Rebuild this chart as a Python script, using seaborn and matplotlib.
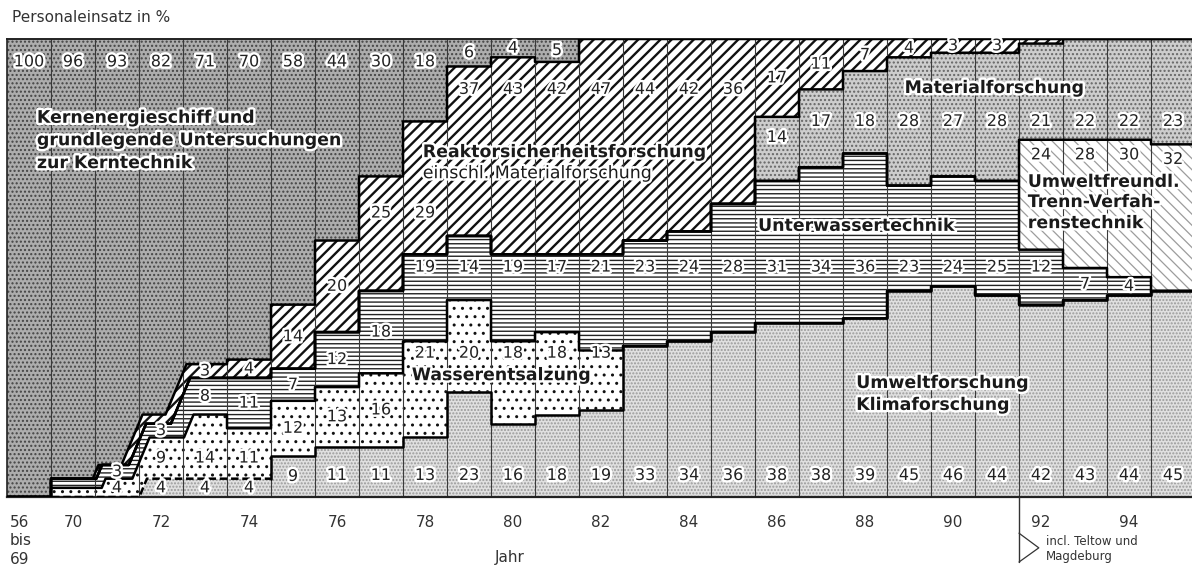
import numpy as np
import matplotlib
matplotlib.use("Agg")
import matplotlib.pyplot as plt
import matplotlib.patheffects as pe
import seaborn as sns

# Personaleinsatz in % per column: "56 bis 69", then one column per year 70 ... 95
years = ["56 bis 69"] + [str(y) for y in range(70, 96)]

umwelt = [0, 0, 0, 4, 4, 4, 9, 11, 11, 13, 23, 16, 18, 19, 33, 34, 36, 38, 38, 39,
          45, 46, 44, 42, 43, 44, 45]
wasser = [0, 2, 4, 9, 14, 11, 12, 13, 16, 21, 20, 18, 18, 13, 0, 0, 0, 0, 0, 0,
          0, 0, 0, 0, 0, 0, 0]
unterwasser = [0, 2, 3, 3, 8, 11, 7, 12, 18, 19, 14, 19, 17, 21, 23, 24, 28, 31, 34, 36,
               23, 24, 25, 12, 7, 4, 0]
trenn = [0] * 23 + [24, 28, 30, 32]
material = [0] * 17 + [14, 17, 18, 28, 27, 28, 21, 22, 22, 23]
reaktor = [0, 0, 0, 2, 3, 4, 14, 20, 25, 29, 37, 43, 42, 47, 44, 42, 36, 17, 11, 7,
           4, 3, 3, 1, 0, 0, 0]
kern = [100, 96, 93, 82, 71, 70, 58, 44, 30, 18, 6, 4, 5] + [0] * 14

sns.set_theme(style="white")
plt.rcParams["font.family"] = ["DejaVu Sans"]
plt.rcParams["hatch.linewidth"] = 1.0

fig = plt.figure(figsize=(11.92, 5.68), dpi=100)
ax = fig.add_axes([7 / 1192, 71 / 568, 1185 / 1192, 458 / 568])

# the early years are drawn with slanted transitions
SLANT = {2, 3, 4}


def step_path(vals, shift=0.1):
    xs, ys = [0.0], [vals[0]]
    for k in range(1, len(vals)):
        a, b = vals[k - 1], vals[k]
        if k in SLANT:
            x1 = k + shift
            x0 = x1 - abs(b - a) / 23
        else:
            x0 = x1 = k
        xs += [x0, x1]
        ys += [a, b]
    xs.append(len(vals))
    ys.append(vals[-1])
    return np.array(xs), np.array(ys)


# name, values, face, hatch, hatch colour, hatch width, slant shift of the top edge
layers = [
    ("umwelt", umwelt, "#e0e0e0", ".....", "#9a9a9a", 1.0, 0.18),
    ("wasser", wasser, "white", "..", "#111111", 1.0, 0.24),
    ("unterwasser", unterwasser, "white", "----", "#222222", 1.0, 0.16),
    ("trenn", trenn, "white", "\\\\\\", "#9c9c9c", 0.9, 0.16),
    ("material", material, "#cdcdcd", "....", "#666666", 1.0, 0.16),
    ("reaktor", reaktor, "white", "///", "#111111", 1.7, 0.08),
    ("kern", kern, "#adadad", "....", "#444444", 1.0, 0.0),
]

bottom = np.zeros(len(years))
bottom_shift = 0.1
bounds = {}
for name, vals, face, hatch, hc, hlw, shift in layers:
    top = bottom + np.array(vals)
    xu, yu = step_path(top, shift)
    xl, yl = step_path(bottom, bottom_shift)
    polys = ax.fill(np.concatenate([xu, xl[::-1]]), np.concatenate([yu, yl[::-1]]),
                    facecolor=face, hatch=hatch, edgecolor=hc, linewidth=0, zorder=1)
    for p in polys:
        if hasattr(p, "set_hatch_linewidth"):
            p.set_hatch_linewidth(hlw)
    bounds[name] = (bottom.copy(), top.copy(), shift)
    bottom = top
    bottom_shift = shift

# column separators
for k in range(1, len(years)):
    ax.axvline(k, color="#3a3a3a", lw=0.8, zorder=2)

# boundaries between the fields
for name, *_ in layers[:-1]:
    _, top, shift = bounds[name]
    xs, ys = step_path(top, shift)
    if name == "umwelt":
        i = int(np.where(xs == 6)[0][0])
        sns.lineplot(x=xs[:i + 1], y=ys[:i + 1], sort=False, estimator=None, color="black",
                     linewidth=1.8, linestyle=(0, (3, 1.5)), ax=ax, zorder=3)
        xs, ys = xs[i:], ys[i:]
    sns.lineplot(x=xs, y=ys, sort=False, estimator=None, color="black",
                 linewidth=1.8, ax=ax, zorder=3)

halo = [pe.withStroke(linewidth=3.5, foreground="white")]


def label_y(name, lo, hi):
    c = (lo + hi) / 2
    if name == "kern":
        return 95 if hi - lo > 10 else c
    if name == "reaktor":
        if hi >= 90 and hi - lo >= 20:
            return 89
        return 62 if hi - lo >= 25 else c
    if name == "material":
        return min(82, hi - 4.5)
    if name == "trenn":
        return hi - 3.3
    if name == "unterwasser":
        return 50.2 if (lo <= 47 and hi >= 52.5) else c
    if name == "wasser":
        if lo >= 13:
            return 31.4
        if lo <= 4 and hi > 10:
            return 8.5
        return c
    return min(c, 4.7)


for name, vals, *_ in layers:
    lo, hi, _ = bounds[name]
    for i, v in enumerate(vals):
        if v < 3 or (name == "reaktor" and i == 3):
            continue
        ax.text(i + 0.5, label_y(name, lo[i], hi[i]), str(v), ha="center", va="center",
                fontsize=11.5, color="#222222", path_effects=halo, zorder=5)

# field names
bold = dict(fontsize=12.5, fontweight="bold", color="#1a1a1a", va="center",
            ha="left", path_effects=halo, zorder=6)
names = [
    (0.68, [82.8, 77.9, 72.9], ["Kernenergieschiff und", "grundlegende Untersuchungen",
                                "zur Kerntechnik"]),
    (9.45, [75.3], ["Reaktorsicherheitsforschung"]),
    (20.4, [89.3], ["Materialforschung"]),
    (17.07, [59.2], ["Unterwassertechnik"]),
    (23.2, [68.8, 64.4, 59.8], ["Umweltfreundl.", "Trenn-Verfah-", "renstechnik"]),
    (9.2, [26.6], ["Wasserentsalzung"]),
    (19.3, [24.9, 20.1], ["Umweltforschung", "Klimaforschung"]),
]
for x, ys, lines in names:
    for y, t in zip(ys, lines):
        ax.text(x, y, t, **bold)
ax.text(9.45, 70.7, "einschl. Materialforschung", fontsize=12.5, color="#1a1a1a",
        va="center", ha="left", path_effects=halo, zorder=6)

# x labels
for i, y in enumerate(years):
    if i == 0:
        ax.text(0.07, -3.9, "56\nbis\n69", ha="left", va="top", fontsize=11,
                color="#333333", linespacing=1.3, clip_on=False)
    elif int(y) % 2 == 0:
        ax.text(i + 0.5, -3.9, y, ha="center", va="top", fontsize=11, color="#333333",
                clip_on=False)
ax.text(11.43, -13.3, "Jahr", ha="center", va="center", fontsize=11, color="#333333",
        clip_on=False)

# note marker for 92
ax.plot([23, 23], [0, -14.2], color="#333333", lw=1.0, clip_on=False, zorder=4)
ax.plot([23, 23.45, 23], [-7.9, -11.1, -14.2], color="#333333", lw=0.9, clip_on=False)
ax.text(23.61, -9.8, "incl. Teltow und", fontsize=8.5, color="#333333", va="center",
        clip_on=False)
ax.text(23.61, -13.1, "Magdeburg", fontsize=8.5, color="#333333", va="center",
        clip_on=False)

fig.text(12 / 1192, 1 - 18 / 568, "Personaleinsatz in %", fontsize=11, color="#333333",
         va="center", ha="left")

ax.set_xlim(0, 1185 / 44)
ax.set_ylim(0, 100)
ax.set_xticks([])
ax.set_yticks([])
ax.set_xlabel("")
ax.set_ylabel("")
for s in ["top", "left", "bottom"]:
    ax.spines[s].set_visible(True)
    ax.spines[s].set_color("#222222")
ax.spines["right"].set_visible(False)
ax.spines["top"].set_linewidth(1.4)
ax.spines["left"].set_linewidth(1.2)
ax.spines["bottom"].set_linewidth(1.6)

fig.savefig("out.png", dpi=100, facecolor="white")
